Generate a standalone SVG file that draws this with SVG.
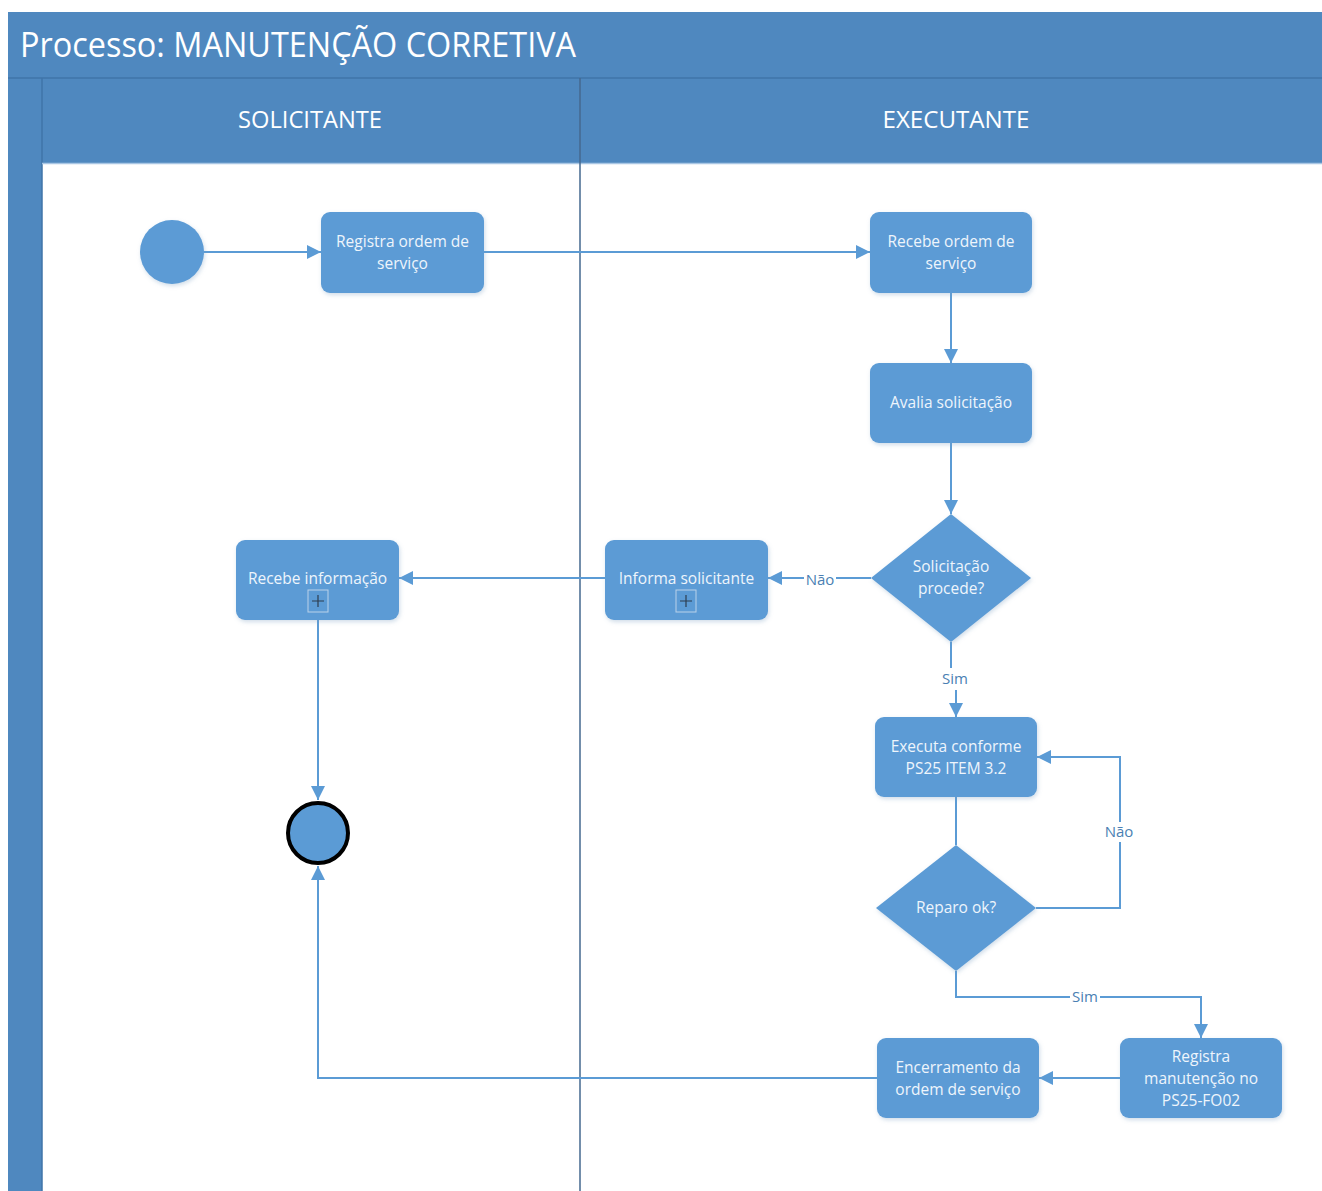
<svg xmlns="http://www.w3.org/2000/svg" width="1322" height="1191" viewBox="0 0 1322 1191">
<defs>
<style>
.band{fill:#4f88bf}
.node{fill:#5b9bd5}
.ntxt{font-family:"Open Sans","DejaVu Sans",sans-serif;font-size:15.5px;fill:#eef5fc;text-anchor:middle}
.htxt{font-family:"Open Sans","DejaVu Sans",sans-serif;font-size:23px;fill:#ffffff;text-anchor:middle}
.conn{fill:none;stroke:#5b9bd5;stroke-width:2}
.lbl{font-family:"Open Sans","DejaVu Sans",sans-serif;font-size:15px;fill:#4a7fb3;text-anchor:middle}
.lblbg{fill:#ffffff}
</style>
<marker id="arr" viewBox="0 0 10 10" refX="10" refY="5" markerWidth="14" markerHeight="14" markerUnits="userSpaceOnUse" orient="auto">
<path d="M0,0 L10,5 L0,10 z" fill="#5b9bd5"/>
</marker>
<filter id="sh" x="-10%" y="-10%" width="130%" height="130%">
<feDropShadow dx="1" dy="2" stdDeviation="2" flood-color="#7a9cc0" flood-opacity="0.35"/>
</filter>
</defs>
<rect width="1322" height="1191" fill="#ffffff"/>
<g id="pool">
<rect class="band" x="8" y="12" width="1314" height="1179"/>
<rect x="42" y="163" width="1280" height="1028" fill="#ffffff"/>
<line x1="8" y1="78" x2="1322" y2="78" stroke="#3f74a8" stroke-width="1.5"/>
<line x1="42" y1="78" x2="42" y2="1191" stroke="#3f74a8" stroke-width="1.5"/>
<line x1="42" y1="163.5" x2="1322" y2="163.5" stroke="#a9c6e4" stroke-width="1.5"/>
<line x1="580" y1="78" x2="580" y2="1191" stroke="#45698f" stroke-width="1.5"/>
<text x="20" y="57" font-family="Open Sans, DejaVu Sans, sans-serif" font-size="34" fill="#ffffff" textLength="556" lengthAdjust="spacingAndGlyphs">Processo: MANUTENÇÃO CORRETIVA</text>
<text class="htxt" x="310" y="128" textLength="144" lengthAdjust="spacingAndGlyphs">SOLICITANTE</text>
<text class="htxt" x="956" y="128" textLength="147" lengthAdjust="spacingAndGlyphs">EXECUTANTE</text>
</g>
<g id="connectors">
<line class="conn" x1="204" y1="252" x2="321" y2="252" marker-end="url(#arr)"/>
<line class="conn" x1="484" y1="252" x2="870" y2="252" marker-end="url(#arr)"/>
<line class="conn" x1="951" y1="293" x2="951" y2="363" marker-end="url(#arr)"/>
<line class="conn" x1="951" y1="443" x2="951" y2="514" marker-end="url(#arr)"/>
<line class="conn" x1="871" y1="578" x2="768" y2="578" marker-end="url(#arr)"/>
<rect class="lblbg" x="804" y="570" width="32" height="18"/>
<text class="lbl" x="820" y="585">Não</text>
<line class="conn" x1="605" y1="578" x2="399" y2="578" marker-end="url(#arr)"/>
<path class="conn" d="M951,642 V668 M956,690 V717" marker-end="url(#arr)"/>
<text class="lbl" x="955" y="684">Sim</text>
<line class="conn" x1="318" y1="620" x2="318" y2="800" marker-end="url(#arr)"/>
<line class="conn" x1="956" y1="797" x2="956" y2="845"/>
<path class="conn" d="M1036,908 H1120 V757 H1037" marker-end="url(#arr)"/>
<rect class="lblbg" x="1102" y="822" width="34" height="20"/>
<text class="lbl" x="1119" y="837">Não</text>
<path class="conn" d="M956,971 V997 H1201 V1038" marker-end="url(#arr)"/>
<rect class="lblbg" x="1070" y="988" width="30" height="18"/>
<text class="lbl" x="1085" y="1002">Sim</text>
<line class="conn" x1="1120" y1="1078" x2="1039" y2="1078" marker-end="url(#arr)"/>
<path class="conn" d="M877,1078 H318 V866" marker-end="url(#arr)"/>
</g>
<g id="start"><circle class="node" cx="172" cy="252" r="32" filter="url(#sh)"/></g>
<g id="registra-ordem">
<rect class="node" x="321" y="212" width="163" height="81" rx="9" filter="url(#sh)"/>
<text class="ntxt" x="402.5" y="247">Registra ordem de</text>
<text class="ntxt" x="402.5" y="269">serviço</text>
</g>
<g id="recebe-ordem">
<rect class="node" x="870" y="212" width="162" height="81" rx="9" filter="url(#sh)"/>
<text class="ntxt" x="951" y="247">Recebe ordem de</text>
<text class="ntxt" x="951" y="269">serviço</text>
</g>
<g id="avalia">
<rect class="node" x="870" y="363" width="162" height="80" rx="9" filter="url(#sh)"/>
<text class="ntxt" x="951" y="408">Avalia solicitação</text>
</g>
<g id="solicitacao-procede">
<polygon class="node" points="951,514 1031,578 951,642 871,578" filter="url(#sh)"/>
<text class="ntxt" x="951" y="572">Solicitação</text>
<text class="ntxt" x="951" y="594">procede?</text>
</g>
<g id="informa">
<rect class="node" x="605" y="540" width="163" height="80" rx="9" filter="url(#sh)"/>
<text class="ntxt" x="686.5" y="584">Informa solicitante</text>
<rect x="676" y="590" width="20" height="22" fill="none" stroke="#b9d2ea" stroke-width="1"/>
<path d="M686,595 V607 M680,601 H692" stroke="#2d3e50" stroke-width="1.2"/>
</g>
<g id="recebe-informacao">
<rect class="node" x="236" y="540" width="163" height="80" rx="9" filter="url(#sh)"/>
<text class="ntxt" x="317.5" y="584">Recebe informação</text>
<rect x="308" y="590" width="20" height="22" fill="none" stroke="#b9d2ea" stroke-width="1"/>
<path d="M318,595 V607 M312,601 H324" stroke="#2d3e50" stroke-width="1.2"/>
</g>
<g id="end"><circle class="node" cx="318" cy="833" r="30" stroke="#000000" stroke-width="4"/></g>
<g id="executa">
<rect class="node" x="875" y="717" width="162" height="80" rx="9" filter="url(#sh)"/>
<text class="ntxt" x="956" y="752">Executa conforme</text>
<text class="ntxt" x="956" y="774">PS25 ITEM 3.2</text>
</g>
<g id="reparo-ok">
<polygon class="node" points="956,845 1036,908 956,971 876,908" filter="url(#sh)"/>
<text class="ntxt" x="956" y="913">Reparo ok?</text>
</g>
<g id="registra-manutencao">
<rect class="node" x="1120" y="1038" width="162" height="80" rx="9" filter="url(#sh)"/>
<text class="ntxt" x="1201" y="1062">Registra</text>
<text class="ntxt" x="1201" y="1084">manutenção no</text>
<text class="ntxt" x="1201" y="1106">PS25-FO02</text>
</g>
<g id="encerramento">
<rect class="node" x="877" y="1038" width="162" height="80" rx="9" filter="url(#sh)"/>
<text class="ntxt" x="958" y="1073">Encerramento da</text>
<text class="ntxt" x="958" y="1095">ordem de serviço</text>
</g>
</svg>
